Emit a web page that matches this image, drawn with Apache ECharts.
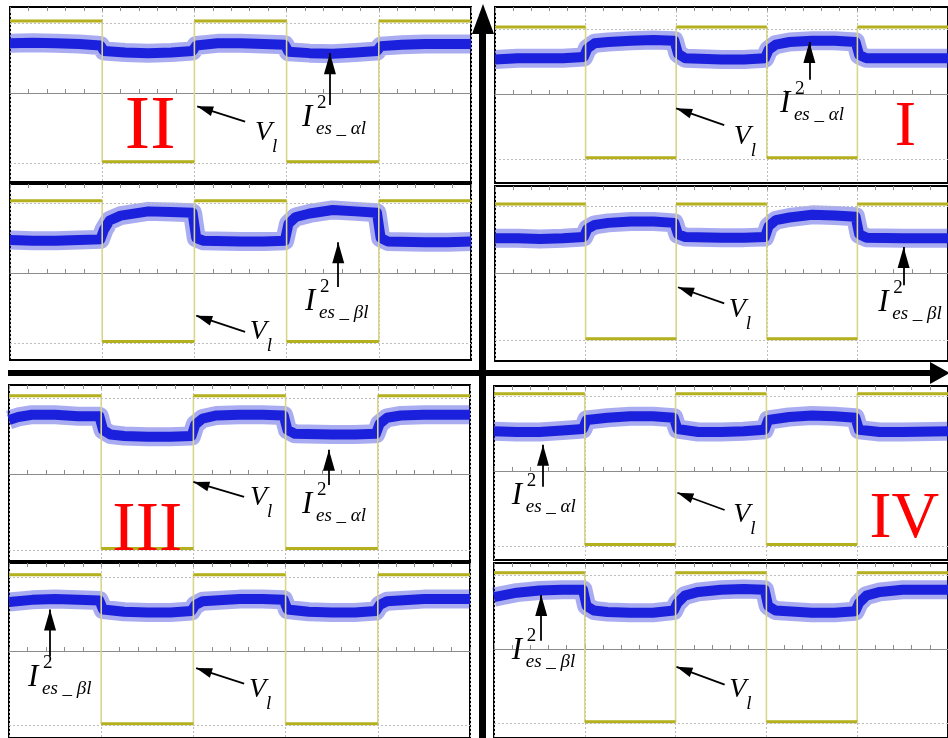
<!DOCTYPE html>
<html><head><meta charset="utf-8">
<script src="https://cdn.jsdelivr.net/npm/echarts@6/dist/echarts.min.js"></script>
<style>html,body{margin:0;padding:0;background:#fff}#c{width:948px;height:738px}</style>
</head><body><div id="c"></div>
<script>
// ---------------- DATA ----------------
// Square wave V_l: division boundaries and state (1 = high, 0 = low) per division
const vlTimes = [0, 1, 2, 3, 4, 5];
const vlStates = [1, 0, 1, 0, 1];
const vlHigh = 1.03;
const vlLow = -0.98;

// Blue current-squared traces [time (div), level (div)] for each panel
const blueQ2Top = [[0,0.71],[0.25,0.72],[0.5,0.71],[0.75,0.70],[0.98,0.68],[1.02,0.60],[1.25,0.58],[1.5,0.57],[1.75,0.58],[1.98,0.60],[2.02,0.68],[2.25,0.71],[2.5,0.71],[2.75,0.70],[2.98,0.69],[3.02,0.59],[3.25,0.57],[3.5,0.56],[3.75,0.58],[3.98,0.60],[4.02,0.67],[4.25,0.69],[4.5,0.70],[4.75,0.70],[5,0.70]];
const blueQ2Bottom = [[0,0.47],[0.25,0.46],[0.5,0.46],[0.75,0.47],[0.98,0.48],[1.02,0.62],[1.08,0.75],[1.2,0.82],[1.5,0.88],[1.75,0.87],[1.98,0.86],[2.02,0.50],[2.1,0.46],[2.5,0.45],[2.75,0.45],[2.98,0.46],[3.02,0.70],[3.1,0.80],[3.25,0.85],[3.5,0.90],[3.75,0.88],[3.98,0.86],[4.02,0.50],[4.1,0.45],[4.5,0.44],[4.75,0.44],[5,0.45]];
const blueQ1Top = [[0,0.53],[0.25,0.55],[0.5,0.55],[0.75,0.55],[0.98,0.57],[1.02,0.70],[1.1,0.78],[1.25,0.80],[1.5,0.82],[1.75,0.83],[1.98,0.82],[2.02,0.62],[2.1,0.55],[2.5,0.53],[2.75,0.53],[2.98,0.55],[3.02,0.68],[3.1,0.76],[3.25,0.80],[3.5,0.82],[3.75,0.82],[3.98,0.80],[4.02,0.60],[4.1,0.55],[4.5,0.55],[4.75,0.55],[5,0.55]];
const blueQ1Bottom = [[0,0.52],[0.25,0.52],[0.5,0.51],[0.75,0.52],[0.98,0.54],[1.02,0.66],[1.1,0.72],[1.25,0.75],[1.5,0.77],[1.75,0.77],[1.98,0.75],[2.02,0.58],[2.1,0.54],[2.5,0.53],[2.75,0.53],[2.98,0.54],[3.02,0.70],[3.1,0.79],[3.25,0.83],[3.5,0.87],[3.75,0.86],[3.98,0.84],[4.02,0.58],[4.1,0.53],[4.5,0.52],[4.75,0.52],[5,0.52]];
const blueQ3Top = [[0,0.71],[0.1,0.75],[0.25,0.78],[0.5,0.78],[0.75,0.76],[0.98,0.76],[1.02,0.58],[1.1,0.52],[1.25,0.50],[1.5,0.49],[1.75,0.49],[1.98,0.50],[2.02,0.65],[2.1,0.73],[2.25,0.77],[2.5,0.78],[2.75,0.78],[2.98,0.77],[3.02,0.58],[3.1,0.53],[3.5,0.52],[3.75,0.52],[3.98,0.53],[4.02,0.66],[4.1,0.74],[4.25,0.77],[4.5,0.78],[5,0.78]];
const blueQ3Bottom = [[0,0.66],[0.25,0.69],[0.5,0.70],[0.75,0.69],[0.98,0.68],[1.02,0.56],[1.25,0.53],[1.5,0.52],[1.75,0.52],[1.98,0.54],[2.02,0.62],[2.1,0.67],[2.5,0.70],[2.75,0.70],[2.98,0.69],[3.02,0.56],[3.25,0.53],[3.5,0.52],[3.75,0.52],[3.98,0.54],[4.02,0.62],[4.1,0.67],[4.5,0.70],[5,0.70]];
const blueQ4Top = [[0,0.53],[0.25,0.52],[0.5,0.52],[0.75,0.54],[0.98,0.56],[1.02,0.68],[1.25,0.71],[1.5,0.73],[1.75,0.73],[1.98,0.71],[2.02,0.56],[2.25,0.52],[2.5,0.52],[2.75,0.53],[2.98,0.55],[3.02,0.68],[3.25,0.72],[3.5,0.74],[3.75,0.73],[3.98,0.71],[4.02,0.55],[4.25,0.52],[4.5,0.52],[5,0.53]];
const blueQ4Bottom = [[0,0.70],[0.25,0.76],[0.5,0.79],[0.75,0.80],[0.98,0.80],[1.02,0.58],[1.1,0.52],[1.25,0.50],[1.5,0.49],[1.75,0.49],[1.98,0.52],[2.02,0.62],[2.1,0.72],[2.25,0.77],[2.5,0.80],[2.75,0.81],[2.98,0.80],[3.02,0.58],[3.1,0.52],[3.5,0.49],[3.75,0.49],[3.98,0.51],[4.02,0.62],[4.1,0.72],[4.25,0.77],[4.5,0.80],[5,0.80]];

const blueTraces = [blueQ2Top, blueQ2Bottom, blueQ1Top, blueQ1Bottom, blueQ3Top, blueQ3Bottom, blueQ4Top, blueQ4Bottom];

// Text content
const quadrantNames = ['II', null, 'I', null, 'III', null, 'IV', null];
const currentSubscripts = ['es _ αl', 'es _ βl', 'es _ αl', 'es _ βl', 'es _ αl', 'es _ βl', 'es _ αl', 'es _ βl'];

// ---------------- LAYOUT / ANNOTATION PLACEMENT ----------------
const layout = [
  {left:10,  top:7,   width:461, height:175, ymin:-1.271, ymax:1.229},
  {left:10,  top:184, width:461, height:176, ymin:-1.243, ymax:1.271},
  {left:495, top:7,   width:461, height:176, ymin:-1.369, ymax:1.338},
  {left:495, top:186, width:461, height:175, ymin:-1.31,  ymax:1.30},
  {left:9,   top:385, width:461, height:176, ymin:-1.145, ymax:1.171},
  {left:9,   top:563, width:461, height:177, ymin:-1.173, ymax:1.187},
  {left:494, top:386, width:461, height:174, ymin:-1.187, ymax:1.133},
  {left:494, top:563, width:461, height:177, ymin:-1.2,   ymax:1.16}
];
const romanPos = [[1.52,-0.5], null, [4.53,-0.52], null, [1.50,-0.76], null, [4.52,-0.65], null];
const romanSize = [76, 0, 64, 0, 70, 0, 66, 0];
const vArrows = [
  [[2.55,-0.41],[2.03,-0.19]], [[2.55,-0.84],[2.02,-0.61]], [[2.53,-0.48],[2.0,-0.22]], [[2.53,-0.45],[2.02,-0.21]],
  [[2.55,-0.30],[2.0,-0.105]], [[2.55,-0.44],[2.03,-0.23]], [[2.54,-0.52],[2.02,-0.29]], [[2.54,-0.48],[2.01,-0.24]]
];
const iArrows = [
  [[3.47,-0.17],[3.47,0.57]], [[3.56,-0.2],[3.56,0.44]], [[3.47,0.22],[3.47,0.8]], [[4.51,-0.18],[4.51,0.39]],
  [[3.47,-0.145],[3.47,0.32]], [[0.445,-0.07],[0.445,0.56]], [[0.54,-0.21],[0.54,0.35]], [[0.52,0.11],[0.52,0.73]]
];
const vLabelPos = [[2.657,-0.571],[2.60,-0.843],[2.636,-0.66],[2.58,-0.55],[2.614,-0.316],[2.603,-0.52],[2.636,-0.587],[2.59,-0.547]];
const iLabelPos = [[3.167,-0.357],[3.20,-0.414],[3.145,-0.154],[4.23,-0.45],[3.178,-0.408],[0.206,-0.36],[0.195,-0.333],[0.195,-0.027]];

// ---------------- BUILD ----------------
function squareWave() {
  const pts = [];
  for (let i = 0; i < vlStates.length; i++) {
    const lv = vlStates[i] ? vlHigh : vlLow;
    pts.push([vlTimes[i], lv], [vlTimes[i + 1], lv]);
  }
  return pts;
}
function squareWaveFlat() {
  const pts = [];
  for (let i = 0; i < vlStates.length; i++) {
    const lv = vlStates[i] ? vlHigh : vlLow;
    pts.push([vlTimes[i], lv], [vlTimes[i + 1], lv]);
    if (i < vlStates.length - 1) pts.push([vlTimes[i + 1], '-']);
  }
  return pts;
}

const serif = 'Liberation Serif, Times New Roman, serif';
const grids = [], xAxes = [], yAxes = [], series = [];

layout.forEach((L, i) => {
  grids.push({left:L.left, top:L.top, width:L.width, height:L.height, show:true,
    backgroundColor:'#fff', borderColor:'#000', borderWidth:2});
  const xBase = {type:'value', gridIndex:i, min:0, max:5, interval:1,
    axisLabel:{show:false}, axisLine:{show:true, onZero:true, lineStyle:{color:'#8c8c8c', width:1}},
    axisTick:{show:true, inside:true, length:4, lineStyle:{color:'#8c8c8c'}},
    minorTick:{show:true, splitNumber:5, length:4, lineStyle:{color:'#8c8c8c'}}};
  xAxes.push(Object.assign({}, xBase, {position:'bottom',
    splitLine:{show:true, lineStyle:{color:'#bdbdbd', type:[2,2], width:1}}}));
  xAxes.push(Object.assign({}, xBase, {position:'top', axisLine:{show:false, onZero:true}, splitLine:{show:false}}));
  yAxes.push({type:'value', gridIndex:i, min:L.ymin, max:L.ymax,
    axisLabel:{show:false}, axisLine:{show:false}, axisTick:{show:false}, splitLine:{show:false}});

  const xi = 2 * i;
  // horizontal grid lines at +/- 1 division
  series.push({type:'line', xAxisIndex:xi, yAxisIndex:i, data:[], silent:true,
    markLine:{silent:true, symbol:'none', label:{show:false},
      lineStyle:{color:'#bdbdbd', type:[2,2], width:1}, data:[{yAxis:1},{yAxis:-1}]}});
  // blue trace: spike fringe + dense core
  series.push({type:'line', xAxisIndex:xi, yAxisIndex:i, data:blueTraces[i], symbol:'none', silent:true,
    lineStyle:{color:'rgba(30,36,215,0.38)', width:19, join:'round'}});
  series.push({type:'line', xAxisIndex:xi, yAxisIndex:i, data:blueTraces[i], symbol:'none', silent:true,
    lineStyle:{color:'#1a20dc', width:10, join:'round'}});
  // yellow V_l square wave
  series.push({type:'line', xAxisIndex:xi, yAxisIndex:i, data:squareWave(), symbol:'none', silent:true,
    lineStyle:{color:'#d8d68c', width:1.6}});
  series.push({type:'line', xAxisIndex:xi, yAxisIndex:i, data:squareWaveFlat(), symbol:'none', silent:true,
    connectNulls:false, lineStyle:{color:'#b4b01e', width:3}});

  // annotations
  const txt = [];
  const mk = (pos, text, style, offset) => ({value:pos, label:Object.assign({show:true, formatter:text,
    position:'inside', align:'left', verticalAlign:'middle', offset:offset || [0,0],
    fontFamily:serif, color:'#000', textBorderWidth:0}, style)});
  txt.push(mk(vLabelPos[i], 'V', {fontSize:28, fontStyle:'italic'}));
  txt.push(mk(vLabelPos[i], 'l', {fontSize:19, fontStyle:'italic'}, [17, 14]));
  txt.push(mk(iLabelPos[i], 'I', {fontSize:31, fontStyle:'italic'}));
  txt.push(mk(iLabelPos[i], '2', {fontSize:19}, [15, -15]));
  txt.push(mk(iLabelPos[i], currentSubscripts[i], {fontSize:19, fontStyle:'italic'}, [14, 11]));
  if (quadrantNames[i]) {
    txt.push({value:romanPos[i], label:{show:true, formatter:quadrantNames[i], position:'inside',
      align:'center', verticalAlign:'middle', fontFamily:serif, fontSize:romanSize[i], color:'#ff0000',
      textBorderWidth:0}});
  }
  const arrowEnd = (pt, w, h) => ({coord:pt, symbol:'triangle', symbolSize:[w, h], symbolOffset:[0, h / 2]});
  series.push({type:'scatter', xAxisIndex:xi, yAxisIndex:i, data:txt, symbolSize:1, silent:true,
    itemStyle:{color:'rgba(0,0,0,0)', opacity:1}, z:10,
    markLine:{silent:true, symbol:['none','triangle'], label:{show:false}, animation:false,
      lineStyle:{color:'#000', width:1.8, type:'solid'},
      itemStyle:{color:'#000'},
      data:[
        [{coord:vArrows[i][0], symbol:'none'}, arrowEnd(vArrows[i][1], 10, 16)],
        [{coord:iArrows[i][0], symbol:'none'}, arrowEnd(iArrows[i][1], 12, 21)]
      ]}});
});

const chart = echarts.init(document.getElementById('c'), null, {renderer:'canvas'});
chart.setOption({
  animation:false,
  backgroundColor:'#fff',
  grid:grids, xAxis:xAxes, yAxis:yAxes, series:series,
  graphic:[
    {type:'rect', shape:{x:479, y:28, width:7, height:712}, style:{fill:'#000'}, z:100},
    {type:'polygon', shape:{points:[[483,4],[472,34],[494,34]]}, style:{fill:'#000'}, z:100},
    {type:'rect', shape:{x:8, y:370, width:926, height:6}, style:{fill:'#000'}, z:100},
    {type:'polygon', shape:{points:[[950,373],[930,362],[930,384]]}, style:{fill:'#000'}, z:100}
  ]
});
</script>
</body></html>
